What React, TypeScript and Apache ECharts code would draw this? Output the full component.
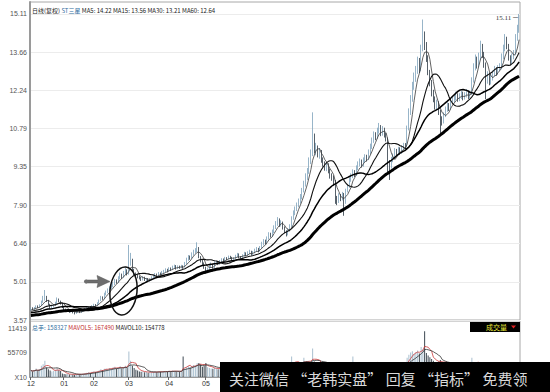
import React, { useEffect, useRef } from 'react';
import * as echarts from 'echarts';

// closes of the 60 sessions before the visible window (only used to seed the moving averages)
const priorCloses = [
  3.70, 3.66, 3.62, 3.60, 3.64, 3.58, 3.55, 3.60, 3.63, 3.59,
  3.62, 3.66, 3.64, 3.60, 3.57, 3.61, 3.65, 3.68, 3.63, 3.60,
  3.64, 3.69, 3.72, 3.68, 3.65, 3.70, 3.74, 3.71, 3.67, 3.70,
  3.73, 3.77, 3.74, 3.70, 3.72, 3.76, 3.80, 3.78, 3.74, 3.77,
  3.81, 3.85, 3.82, 3.79, 3.83, 3.87, 3.84, 3.80, 3.84, 3.88,
  3.92, 3.89, 3.86, 3.90, 3.94, 3.91, 3.88, 3.93, 3.97, 3.95,
];

// [open, close, low, high]
const candles = [
  [3.96, 4.00, 3.92, 4.04], [4.01, 3.98, 3.94, 4.05], [3.97, 4.03, 3.95, 4.06], [4.03, 4.08, 4.00, 4.12], [4.09, 4.05, 4.02, 4.12],
  [4.05, 4.12, 4.03, 4.16], [4.13, 4.25, 4.10, 4.30], [4.24, 4.38, 4.22, 4.48], [4.38, 4.45, 4.30, 4.70], [4.44, 4.30, 4.25, 4.48],
  [4.30, 4.15, 4.12, 4.33], [4.15, 4.05, 4.00, 4.18], [4.04, 4.08, 4.00, 4.12], [4.08, 4.12, 4.04, 4.16], [4.12, 4.22, 4.10, 4.26],
  [4.22, 4.35, 4.18, 4.42], [4.35, 4.28, 4.24, 4.38], [4.28, 4.20, 4.15, 4.30], [4.20, 4.05, 4.02, 4.22], [4.05, 3.98, 3.94, 4.08],
  [3.98, 3.92, 3.88, 4.00], [3.92, 3.95, 3.89, 3.99], [3.95, 3.88, 3.84, 3.97], [3.88, 3.90, 3.85, 3.93], [3.90, 3.85, 3.82, 3.92],
  [3.85, 3.82, 3.78, 3.88], [3.82, 3.88, 3.80, 3.90], [3.88, 3.92, 3.85, 3.95], [3.92, 3.86, 3.83, 3.94], [3.86, 3.90, 3.84, 3.93],
  [3.90, 3.95, 3.88, 3.98], [3.95, 3.98, 3.92, 4.02], [3.98, 4.02, 3.95, 4.05], [4.02, 4.06, 4.00, 4.09], [4.06, 4.03, 4.00, 4.09],
  [4.03, 4.10, 4.01, 4.13], [4.10, 4.14, 4.07, 4.18], [4.14, 4.12, 4.08, 4.17], [4.12, 4.20, 4.10, 4.24], [4.20, 4.30, 4.18, 4.34],
  [4.30, 4.42, 4.28, 4.48], [4.42, 4.38, 4.33, 4.46], [4.38, 4.55, 4.36, 4.60], [4.55, 4.62, 4.50, 4.68], [4.62, 4.70, 4.58, 4.76],
  [4.70, 4.78, 4.65, 4.84], [4.78, 4.85, 4.72, 4.92], [4.85, 4.92, 4.80, 5.00], [4.92, 5.05, 4.88, 5.12], [5.05, 5.00, 4.94, 5.10],
  [5.00, 5.15, 4.97, 5.22], [5.15, 5.28, 5.10, 5.36], [5.28, 5.20, 5.12, 5.32], [5.20, 5.35, 5.16, 5.42], [5.35, 5.42, 5.28, 5.55],
  [5.42, 5.30, 5.25, 5.48], [5.30, 5.75, 5.28, 6.40], [5.75, 5.90, 5.62, 6.10], [5.85, 5.45, 5.40, 5.88], [5.45, 5.32, 5.26, 5.50],
  [5.32, 5.25, 5.18, 5.36], [5.25, 5.20, 5.14, 5.30], [5.20, 5.15, 5.10, 5.24], [5.15, 5.10, 5.04, 5.20], [5.10, 5.18, 5.06, 5.22],
  [5.18, 5.08, 5.04, 5.20], [5.08, 5.12, 5.03, 5.16], [5.12, 5.05, 5.00, 5.15], [5.05, 5.10, 5.02, 5.14], [5.10, 5.18, 5.07, 5.22],
  [5.18, 5.22, 5.14, 5.28], [5.22, 5.28, 5.18, 5.34], [5.28, 5.25, 5.20, 5.32], [5.25, 5.32, 5.22, 5.38], [5.32, 5.30, 5.25, 5.36],
  [5.30, 5.36, 5.27, 5.42], [5.36, 5.40, 5.32, 5.46], [5.40, 5.45, 5.36, 5.52], [5.45, 5.42, 5.37, 5.50], [5.42, 5.50, 5.40, 5.56],
  [5.50, 5.48, 5.42, 5.55], [5.48, 5.55, 5.45, 5.62], [5.55, 5.60, 5.50, 5.66], [5.60, 5.52, 5.47, 5.64], [5.52, 5.58, 5.49, 5.63],
  [5.58, 5.55, 5.50, 5.62], [5.55, 5.60, 5.52, 5.65], [5.60, 5.57, 5.50, 5.63], [5.57, 5.70, 5.55, 5.76], [5.70, 5.85, 5.67, 5.92],
  [5.85, 5.95, 5.80, 6.02], [5.95, 5.90, 5.84, 6.00], [5.90, 6.05, 5.88, 6.12], [6.05, 6.15, 6.00, 6.22], [6.15, 6.20, 6.08, 6.28],
  [6.20, 6.30, 6.12, 6.50], [6.28, 5.95, 5.90, 6.32], [5.95, 5.80, 5.74, 5.98], [5.80, 5.70, 5.64, 5.84], [5.70, 5.55, 5.50, 5.74],
  [5.55, 5.40, 5.32, 5.58], [5.40, 5.50, 5.36, 5.55], [5.50, 5.62, 5.46, 5.68], [5.62, 5.68, 5.56, 5.74], [5.68, 5.55, 5.50, 5.70],
  [5.55, 5.72, 5.52, 5.78], [5.72, 5.75, 5.66, 5.80], [5.75, 5.70, 5.64, 5.79], [5.70, 5.78, 5.66, 5.83], [5.78, 5.85, 5.74, 5.90],
  [5.85, 5.80, 5.75, 5.89], [5.80, 5.90, 5.77, 5.95], [5.90, 5.88, 5.82, 5.94], [5.88, 5.95, 5.85, 6.00], [5.95, 5.92, 5.87, 5.99],
  [5.92, 5.85, 5.80, 5.95], [5.85, 5.90, 5.82, 5.94], [5.90, 5.98, 5.86, 6.03], [5.98, 6.05, 5.94, 6.10], [6.05, 5.95, 5.90, 6.08],
  [5.95, 5.90, 5.85, 5.98], [5.90, 6.00, 5.87, 6.05], [6.00, 6.08, 5.96, 6.14], [6.08, 6.02, 5.97, 6.12], [6.02, 6.10, 5.99, 6.16],
  [6.10, 6.15, 6.05, 6.22], [6.15, 6.05, 6.00, 6.18], [6.05, 6.12, 6.02, 6.17], [6.12, 6.20, 6.08, 6.26], [6.20, 6.25, 6.14, 6.32],
  [6.25, 6.18, 6.12, 6.29], [6.18, 6.30, 6.15, 6.36], [6.30, 6.45, 6.26, 6.52], [6.45, 6.55, 6.38, 6.62], [6.55, 6.50, 6.42, 6.60],
  [6.50, 6.65, 6.46, 6.72], [6.65, 6.80, 6.60, 6.88], [6.80, 6.75, 6.68, 6.86], [6.75, 6.90, 6.70, 6.98], [6.90, 7.05, 6.85, 7.14],
  [7.05, 7.20, 7.00, 7.30], [7.20, 7.35, 7.12, 7.45], [7.35, 7.15, 7.08, 7.40], [7.15, 7.25, 7.10, 7.33], [7.25, 7.05, 6.98, 7.28],
  [7.05, 6.90, 6.84, 7.10], [6.90, 6.80, 6.72, 6.95], [6.80, 6.95, 6.76, 7.02], [6.95, 7.10, 6.90, 7.18], [7.10, 7.40, 7.06, 7.48],
  [7.40, 7.60, 7.35, 7.70], [7.60, 7.75, 7.52, 7.85], [7.75, 7.90, 7.68, 8.00], [7.90, 8.05, 7.82, 8.15], [8.05, 8.20, 7.96, 8.32],
  [8.20, 8.45, 8.12, 8.55], [8.45, 8.70, 8.38, 8.82], [8.70, 8.95, 8.60, 9.10], [8.95, 9.15, 8.85, 9.30], [9.15, 9.55, 9.08, 9.70],
  [9.55, 9.85, 9.45, 10.00], [9.85, 10.45, 9.75, 11.40], [10.40, 9.95, 9.85, 10.60], [9.95, 10.05, 9.78, 10.25], [10.05, 9.80, 9.70, 10.15],
  [9.80, 9.90, 9.65, 10.05], [9.90, 9.60, 9.50, 9.98], [9.60, 9.45, 9.35, 9.70], [9.45, 9.30, 9.20, 9.55], [9.30, 9.40, 9.18, 9.52],
  [9.40, 9.20, 9.10, 9.48], [9.20, 9.00, 8.90, 9.28], [9.00, 8.95, 8.82, 9.10], [8.95, 8.70, 8.62, 9.02], [8.80, 8.10, 7.95, 8.85],
  [8.10, 8.05, 7.90, 8.25], [8.05, 8.25, 7.98, 8.35], [8.25, 8.15, 8.05, 8.32], [8.15, 8.30, 8.08, 8.40], [8.30, 8.00, 7.50, 8.36],
  [8.00, 8.45, 7.95, 8.52], [8.45, 8.60, 8.38, 8.70], [8.60, 8.85, 8.55, 8.95], [8.85, 9.00, 8.78, 9.10], [9.00, 9.15, 8.92, 9.25],
  [9.15, 9.05, 8.96, 9.22], [9.05, 9.30, 9.00, 9.40], [9.30, 9.45, 9.22, 9.55], [9.45, 9.55, 9.36, 9.66], [9.55, 9.40, 9.32, 9.62],
  [9.40, 9.60, 9.35, 9.70], [9.60, 9.70, 9.52, 9.82], [9.70, 9.65, 9.55, 9.80], [9.65, 9.90, 9.60, 10.00], [9.90, 10.10, 9.82, 10.22],
  [10.10, 10.35, 10.02, 10.45], [10.35, 10.55, 10.25, 10.68], [10.55, 10.45, 10.35, 10.65], [10.45, 10.70, 10.40, 10.82], [10.70, 10.85, 10.60, 11.00],
  [10.85, 10.60, 10.50, 10.92], [10.60, 10.75, 10.52, 10.88], [10.75, 10.55, 10.45, 10.82], [10.55, 10.40, 10.30, 10.62], [10.35, 9.45, 9.10, 10.45],
  [9.45, 9.35, 8.85, 9.60], [9.35, 9.60, 9.28, 9.72], [9.60, 9.75, 9.52, 9.85], [9.75, 9.95, 9.68, 10.05], [9.95, 9.85, 9.76, 10.02],
  [9.85, 10.00, 9.78, 10.10], [10.00, 9.90, 9.80, 10.08], [9.90, 10.05, 9.84, 10.15], [10.05, 10.15, 9.98, 10.25], [10.15, 10.10, 10.00, 10.24],
  [10.12, 10.80, 10.08, 10.90], [10.80, 11.40, 10.72, 11.55], [11.40, 11.90, 11.30, 12.05], [11.90, 12.40, 11.80, 12.55], [12.40, 12.70, 12.25, 12.90],
  [12.70, 12.95, 12.55, 13.15], [12.95, 13.30, 12.85, 13.50], [13.30, 13.00, 12.88, 13.45], [13.00, 13.80, 12.95, 13.95], [13.80, 14.30, 13.70, 14.90],
  [14.30, 13.90, 13.75, 14.45], [13.90, 13.40, 13.30, 14.05], [13.40, 12.90, 12.80, 13.55], [12.90, 12.50, 12.38, 13.00], [12.50, 12.10, 12.00, 12.62],
  [12.10, 11.90, 11.78, 12.25], [11.90, 11.60, 11.50, 12.00], [11.60, 11.75, 11.48, 11.88], [11.75, 11.40, 11.30, 11.82], [11.40, 11.15, 10.60, 11.50],
  [11.15, 11.05, 10.90, 11.25], [11.05, 11.30, 10.98, 11.40], [11.30, 11.50, 11.22, 11.62], [11.50, 11.65, 11.42, 11.78], [11.65, 11.55, 11.45, 11.75],
  [11.55, 11.80, 11.50, 11.92], [11.80, 11.85, 11.70, 11.98], [11.85, 11.95, 11.76, 12.08], [11.95, 12.05, 11.86, 12.18], [12.05, 11.90, 11.80, 12.12],
  [11.90, 12.00, 11.82, 12.12], [12.00, 12.10, 11.90, 12.22], [12.10, 11.95, 11.85, 12.18], [11.95, 12.05, 11.88, 12.16], [12.05, 12.15, 11.96, 12.28],
  [12.15, 12.00, 11.90, 12.22], [12.00, 12.10, 11.92, 12.22], [12.10, 12.60, 12.05, 12.72], [12.60, 13.10, 12.52, 13.25], [13.10, 13.40, 12.98, 13.58],
  [13.40, 13.20, 13.05, 13.50], [13.20, 13.50, 13.10, 13.65], [13.50, 13.90, 13.40, 14.10], [13.90, 13.60, 13.45, 13.98], [13.60, 13.20, 13.08, 13.68],
  [13.20, 12.60, 11.90, 13.28], [12.60, 12.80, 12.48, 12.95], [12.80, 12.55, 12.42, 12.90], [12.55, 12.70, 12.45, 12.85], [12.70, 12.85, 12.60, 12.98],
  [12.85, 13.00, 12.75, 13.15], [13.00, 12.90, 12.78, 13.10], [12.90, 13.05, 12.82, 13.18], [13.05, 13.10, 12.95, 13.25], [13.10, 13.50, 13.02, 13.62],
  [13.50, 13.80, 13.40, 13.95], [13.80, 14.15, 13.70, 14.35], [14.15, 13.90, 13.78, 14.25], [13.90, 13.45, 13.35, 13.98], [13.45, 13.30, 13.18, 13.55],
  [13.30, 13.50, 13.22, 13.62], [13.50, 13.60, 13.40, 13.75], [13.60, 14.20, 13.55, 14.35], [14.20, 14.50, 14.10, 14.70], [14.50, 14.90, 14.40, 15.11],
];

// daily volume (axis units, x10)
const volumes = [
  1500, 1300, 1600, 2000, 1400, 1800, 2600, 3000, 3800, 2200,
  1800, 1500, 1300, 1400, 1700, 2100, 1600, 1400,
  800, 700, 650, 700, 600, 650, 600, 550, 650, 700, 600, 650, 750,
  900, 1000, 1100, 950, 1200, 1300, 1150, 1400,
  1500, 1800, 1600, 1900, 2000, 1800, 2100, 2000,
  2200, 2400, 1900, 2200, 2500, 2000, 2300, 2600, 2100,
  5950, 3800,
  2600, 2100, 1700, 1500, 1300, 1200, 1300, 1100, 1200, 1000, 1100,
  1100, 1200, 1300, 1100, 1300, 1200, 1250, 1400, 1300, 1200, 1450, 1250, 1500, 1400, 1250, 1300, 1200, 1350, 4800,
  2000, 2300, 2500, 2200, 2600, 2800, 2700, 3200,
  3300, 3000, 2400, 2600, 3300, 2300, 2100, 2000, 1900, 2200, 2000, 1800, 2000,
  2100, 1900, 2200, 2000, 2300, 2100, 1900, 2000, 2200, 2400, 2100, 1900, 2200, 2300, 2100, 2400, 2600, 2200, 2300, 2500, 2700, 2400, 2800,
  2800, 3000, 2700, 3100, 3300, 2900, 3200, 3400, 3300, 3500, 3100, 3000, 2900, 2800, 2600, 2700, 3000,
  4800, 3300, 3500, 3200, 3000, 3400, 3300, 4500, 3500, 3400, 3600, 3500, 6660, 3600,
  3400, 3200, 3000, 2900, 2800, 2700, 2600, 2500, 2600, 2400, 2300, 3300, 2900, 2500, 2400, 2300, 3000, 2700, 2600,
  2800, 3000, 4800, 2700, 2900, 3100, 2800, 2700, 3000, 3200, 2900, 3300, 3400, 3500, 3200, 3400, 3500, 3200, 3100, 3000, 2900, 2800,
  3500, 3300, 3100, 3000, 2900, 2800, 3000, 2700, 2900, 3100, 3000,
  4500, 5200, 5700, 6000, 5400, 5800, 6200, 5500, 7000, 6500, 10700,
  5600, 5000, 4600, 4200, 3800, 3500, 3300, 3600, 4000, 3400, 3100, 3300, 3200, 3000, 3300, 3100, 2900, 3000, 2800, 2700, 2900, 2800, 2600, 2800, 2700, 2900,
  4500, 3400, 3300, 2900, 3100, 3400, 3200, 2800, 3300, 2700, 2500, 2400, 2500, 2300, 2400, 2200, 2400, 2500, 2900, 3100, 3300, 3000, 2700, 2500, 2600, 2700, 3100, 3400,
];

// month boundaries whose labels are visible in the reference (the rest lie under the banner)
const monthStarts = [0, 19, 36, 56, 79, 100];
const monthLabels = ['12', '01', '02', '03', '04', '05'];

const priceTicks = [3.57, 5.01, 6.46, 7.9, 9.35, 10.79, 12.24, 13.66, 15.11];
const priceTickLabels = ['3.57', '5.01', '6.46', '7.90', '9.35', '10.79', '12.24', '13.66', '15.11'];
const volTicks = [0, 5709.5, 11419];
const volTickLabels = ['X10', '55709', '11419'];

const mainLegend = { title: '日线(复权)', name: 'ST三星', ma: 'MA5: 14.22 MA15: 13.56 MA30: 13.21 MA60: 12.64' };
const volLegend = { total: '总手: 158327', mv5: 'MAVOL5: 167490', mv10: 'MAVOL10: 154778' };
const bannerText = '关注微信 “老韩实盘” 回复 “指标” 免费领';

const FONT = '"Noto Sans CJK SC", "DejaVu Sans", sans-serif';
const NUM_FONT = '"Liberation Sans", "DejaVu Sans", sans-serif';

function movingAvg(values: number[], prior: number[], n: number) {
  const all = prior.concat(values);
  const off = prior.length;
  return values.map((_, i) => {
    const end = off + i;
    const start = Math.max(0, end - n + 1);
    let s = 0;
    for (let k = start; k <= end; k++) s += all[k];
    return +(s / (end - start + 1)).toFixed(3);
  });
}

export default function App() {
  const ref = useRef<HTMLDivElement>(null);
  useEffect(() => {
    const chart = echarts.init(ref.current!, null, { renderer: 'svg' });
    const closes = candles.map((c) => c[1]);
    const up = candles.map((c) => c[1] >= c[0]);
    const cats = candles.map((_, i) => String(i));
    const monthAt: Record<number, string> = {};
    monthStarts.forEach((s, k) => (monthAt[s] = monthLabels[k]));
    const isMonth = (i: number) => monthAt[i] !== undefined;

    const ma5 = movingAvg(closes, priorCloses, 5);
    const ma15 = movingAvg(closes, priorCloses, 15);
    const ma30 = movingAvg(closes, priorCloses, 30);
    const ma60 = movingAvg(closes, priorCloses, 60);
    const mv5 = movingAvg(volumes, [], 5);
    const mv10 = movingAvg(volumes, [], 10);

    const maLine = (name: string, data: number[], width: number, color: string) => ({
      name,
      type: 'line',
      xAxisIndex: 0,
      yAxisIndex: 0,
      data,
      showSymbol: false,
      symbol: 'none',
      smooth: false,
      z: 5,
      lineStyle: { width, color },
      silent: true,
    });

    const option = {
      animation: false,
      backgroundColor: '#ffffff',
      textStyle: { fontFamily: FONT },
      grid: [
        { left: 30, right: 30, top: 2, height: 318, show: true, borderColor: '#a8a8a8', borderWidth: 1 },
        { left: 30, right: 30, top: 321, height: 56, show: true, borderColor: '#a8a8a8', borderWidth: 1 },
      ],
      xAxis: [
        {
          type: 'category', gridIndex: 0, data: cats, boundaryGap: true,
          axisLine: { show: false }, axisTick: { show: false }, axisLabel: { show: false }, splitLine: { show: false },
        },
        {
          type: 'category', gridIndex: 1, data: cats, boundaryGap: true,
          axisLine: { show: true, lineStyle: { color: '#999' } },
          axisTick: { show: true, interval: (i: number) => isMonth(i), length: 3, lineStyle: { color: '#666' } },
          axisLabel: {
            interval: (i: number) => isMonth(i),
            formatter: (_v: string, i: number) => monthAt[i] ?? '',
            fontSize: 7, color: '#333', margin: 3, fontFamily: NUM_FONT,
          },
          splitLine: { show: false },
        },
      ],
      yAxis: [
        {
          type: 'value', gridIndex: 0, min: 3.57, max: 15.56, scale: true,
          axisLine: { show: true, lineStyle: { color: '#9a9a9a', width: 2 } },
          axisTick: { show: false, customValues: priceTicks },
          axisLabel: {
            customValues: priceTicks,
            formatter: (v: number) => {
              const k = priceTicks.findIndex((t) => Math.abs(t - v) < 1e-6);
              return k >= 0 ? priceTickLabels[k] : '';
            },
            fontSize: 7, lineHeight: 7, color: '#555', margin: 3, fontFamily: NUM_FONT,
          },
          splitLine: { show: true, lineStyle: { color: '#ececec', width: 1 } },
        },
        {
          type: 'value', gridIndex: 1, min: 0, max: 13085,
          axisLine: { show: true, lineStyle: { color: '#9a9a9a', width: 2 } },
          axisTick: { show: false, customValues: volTicks },
          axisLabel: {
            customValues: volTicks,
            formatter: (v: number) => {
              const k = volTicks.findIndex((t) => Math.abs(t - v) < 1e-6);
              return k >= 0 ? volTickLabels[k] : '';
            },
            fontSize: 7, lineHeight: 7, color: '#555', margin: 3, fontFamily: NUM_FONT,
          },
          splitLine: { show: false },
        },
      ],
      series: [
        {
          name: 'K',
          type: 'candlestick',
          xAxisIndex: 0,
          yAxisIndex: 0,
          data: candles,
          barMaxWidth: 1.4,
          z: 3,
          itemStyle: {
            color: '#c4d6e3',
            color0: '#2c3944',
            borderColor: '#7ea2bb',
            borderColor0: '#2c3944',
            borderWidth: 0.8,
          },
          markPoint: {
            symbol: 'rect',
            symbolSize: 0.1,
            data: [{ type: 'max', valueDim: 'highest' }],
            label: {
              show: true,
              position: 'left',
              distance: 1,
              offset: [0, 4],
              formatter: (p: any) => `${Number(p.value).toFixed(2)} ─`,
              fontSize: 7,
              color: '#333',
              fontFamily: 'serif',
            },
            itemStyle: { color: 'transparent' },
          },
        },
        maLine('MA5', ma5, 0.8, '#3a3a3a'),
        maLine('MA15', ma15, 1.1, '#111'),
        maLine('MA30', ma30, 1.5, '#000'),
        maLine('MA60', ma60, 3, '#000'),
        {
          name: 'VOL',
          type: 'bar',
          xAxisIndex: 1,
          yAxisIndex: 1,
          barWidth: 1,
          data: volumes.map((v, i) => ({
            value: v,
            itemStyle: { color: up[i] ? '#a9bfcf' : '#3d4852' },
          })),
          silent: true,
        },
        {
          name: 'MAVOL5', type: 'line', xAxisIndex: 1, yAxisIndex: 1, data: mv5,
          showSymbol: false, symbol: 'none', lineStyle: { width: 0.8, color: '#cc3b3b' }, z: 4, silent: true,
        },
        {
          name: 'MAVOL10', type: 'line', xAxisIndex: 1, yAxisIndex: 1, data: mv10,
          showSymbol: false, symbol: 'none', lineStyle: { width: 0.8, color: '#333' }, z: 4, silent: true,
        },
      ],
      graphic: [
        {
          type: 'text', x: 32, y: 10, z: 50,
          style: {
            text: `{a|${mainLegend.title}} {b|${mainLegend.name}} {a|${mainLegend.ma}}`,
            verticalAlign: 'middle',
            font: `6px ${FONT}`,
            rich: {
              a: { fill: '#222', fontSize: 6, fontFamily: FONT },
              b: { fill: '#2f6ea0', fontSize: 6, fontFamily: FONT },
            },
          },
        },
        {
          type: 'text', x: 32, y: 327, z: 50,
          style: {
            text: `{a|${volLegend.total}} {b|${volLegend.mv5}} {c|${volLegend.mv10}}`,
            verticalAlign: 'middle',
            font: `6px ${FONT}`,
            rich: {
              a: { fill: '#2f6ea0', fontSize: 6, fontFamily: FONT },
              b: { fill: '#c43030', fontSize: 6, fontFamily: FONT },
              c: { fill: '#222', fontSize: 6, fontFamily: FONT },
            },
          },
        },
        { type: 'rect', z: 50, shape: { x: 470, y: 322, width: 50, height: 10 }, style: { fill: '#000' } },
        {
          type: 'text', x: 486, y: 327, z: 51,
          style: { text: '成交量', fill: '#e8e83a', font: `7px ${FONT}`, verticalAlign: 'middle' },
        },
        {
          type: 'polygon', z: 51,
          shape: { points: [[511, 325.5], [516, 325.5], [513.5, 328.5]] },
          style: { fill: '#e02020' },
        },
        {
          type: 'ellipse', z: 50, x: 123.5, y: 291, rotation: -0.1,
          shape: { cx: 0, cy: 0, rx: 13.5, ry: 24 },
          style: { fill: 'none', stroke: '#111', lineWidth: 1.5 },
        },
        {
          type: 'polygon', z: 50,
          shape: { points: [[86, 280], [98, 280], [97, 275.5], [110, 281.5], [97, 287.5], [98, 283], [86, 283]] },
          style: { fill: '#6e6e6e', stroke: '#555', lineWidth: 0.5 },
        },
        { type: 'circle', z: 50, shape: { cx: 86, cy: 281.5, r: 2 }, style: { fill: '#6e6e6e' } },
        { type: 'rect', z: 100, shape: { x: 220, y: 362, width: 330, height: 30 }, style: { fill: '#000' } },
        {
          type: 'text', x: 229, y: 378, z: 101,
          style: { text: bannerText, fill: '#d9d9d9', font: `15px ${FONT}`, verticalAlign: 'middle' },
        },
      ],
    };
    chart.setOption(option as any);
    return () => chart.dispose();
  }, []);
  return (
    <div
      ref={ref}
      style={{ position: 'fixed', left: 0, top: 0, width: 550, height: 392, background: '#fff' }}
    />
  );
}
